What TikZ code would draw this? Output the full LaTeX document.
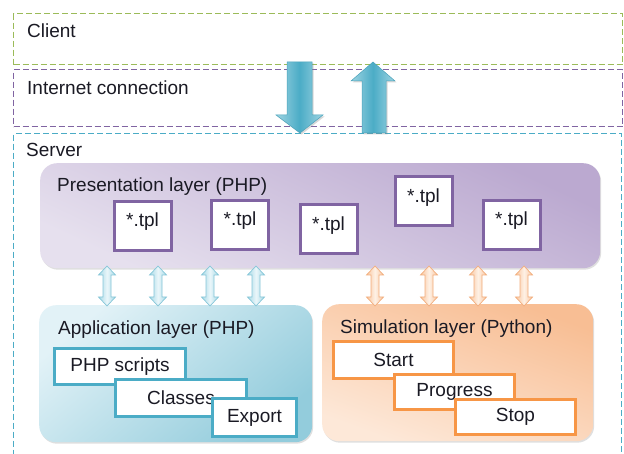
\documentclass[tikz,border=0pt]{standalone}
\usepackage{fontspec}
\setmainfont{Liberation Sans}
\usetikzlibrary{shadows}
\definecolor{zgreen}{HTML}{9BBB59}
\definecolor{zpurple}{HTML}{8064A2}
\definecolor{zcyan}{HTML}{4BACC6}
\definecolor{zorange}{HTML}{F79646}
\definecolor{txt}{HTML}{1A1A24}
\definecolor{pTop}{HTML}{BBA9D0}
\definecolor{pBot}{HTML}{E6E0EE}
\definecolor{aLight}{HTML}{E2F2F7}
\definecolor{aDark}{HTML}{93CCDC}
\definecolor{sDark}{HTML}{F8BE94}
\definecolor{sLight}{HTML}{FDE8D8}
\definecolor{arrEdge}{HTML}{9ED4E2}
\definecolor{arrMid}{HTML}{4BACC6}
\definecolor{arrLine}{HTML}{4AA3BB}
\definecolor{cEdge}{HTML}{A6D9E6}
\definecolor{cMid}{HTML}{EAF6FA}
\definecolor{cLine}{HTML}{86C6D8}
\definecolor{oEdge}{HTML}{F9C59C}
\definecolor{oMid}{HTML}{FEF1E6}
\definecolor{oLine}{HTML}{F2AE7E}
\tikzset{
  zone/.style={draw, dash pattern=on 6pt off 3pt, line width=1.3pt, anchor=north west, inner sep=0pt},
  zlabel/.style={anchor=base west, inner sep=0pt},
  layer/.style={rounded corners=17pt, anchor=north west, inner sep=0pt,
    drop shadow={shadow xshift=1pt, shadow yshift=-1.5pt, opacity=0.25}},
  tplbox/.style={draw=zpurple, line width=3pt, fill=white, minimum width=57pt, minimum height=49pt,
    inner sep=0pt, text height=14pt, text depth=0pt},
  abox/.style={draw=zcyan, line width=3pt, fill=white, inner sep=0pt, anchor=north west},
  sbox/.style={draw=zorange, line width=3pt, fill=white, inner sep=0pt, anchor=north west},
  bigarrow/.style={left color=arrEdge, right color=arrEdge, middle color=arrMid, draw=arrLine, line width=0.5pt,
    drop shadow={shadow xshift=1.5pt, shadow yshift=-1.5pt, opacity=0.3}},
  cyanlink/.style={left color=cEdge, right color=cEdge, middle color=cMid, draw=cLine, line width=0.7pt},
  orangelink/.style={left color=oEdge, right color=oEdge, middle color=oMid, draw=oLine, line width=0.7pt},
  dbl/.pic={\path[pic actions] (0,-20) -- (8.5,-11) -- (4,-11) -- (4,11) -- (8.5,11) -- (0,20)
      -- (-8.5,11) -- (-4,11) -- (-4,-11) -- (-8.5,-11) -- cycle;}
}
\begin{document}
\begin{tikzpicture}[x=1pt,y=-1pt,font=\fontsize{19}{22}\selectfont,text=txt]
\clip (0,0) rectangle (624,454);
\fill[white] (0,0) rectangle (624,454);
% zones
\node[zone, draw=zgreen, minimum width=609pt, minimum height=51pt] (client) at (13,13) {};
\node[zone, draw=zpurple, minimum width=609pt, minimum height=57pt] (inet) at (13,69) {};
\node[zone, draw=zcyan, minimum width=608pt, minimum height=340pt] (server) at (13,133) {};
\node[zlabel] (lclient) at (27,38) {Client};
\node[zlabel] (linet) at (27,95) {Internet connection};
\node[zlabel] (lserver) at (26,157) {Server};
% big arrows
\path[bigarrow] (287,62) -- (312,62) -- (312,115) -- (323,115) -- (300,133) -- (276,115) -- (287,115) -- cycle;
\path[bigarrow] (373,62) -- (395,81) -- (386,81) -- (386,133) -- (362,133) -- (362,81) -- (351,81) -- cycle;
% layers
\node[layer, top color=pTop, bottom color=pBot, shading angle=-25, minimum width=560pt, minimum height=105pt] (pres) at (40,163) {};
\node[layer, top color=aLight, bottom color=aDark, shading angle=40, minimum width=273pt, minimum height=137pt] (app) at (39,305) {};
\node[layer, top color=sDark, bottom color=sLight, shading angle=-20, minimum width=271pt, minimum height=137pt] (sim) at (322,304) {};
\node[zlabel] (lpres) at (57,192) {Presentation layer (PHP)};
\node[zlabel] (lapp) at (58,335) {Application layer (PHP)};
\node[zlabel] (lsim) at (340,334) {Simulation layer (Python)};
% templates
\node[tplbox] (t1) at (142.5,226) {\raisebox{6pt}{*.tpl}};
\node[tplbox] (t2) at (240,225) {\raisebox{6pt}{*.tpl}};
\node[tplbox] (t3) at (328.5,229.5) {\raisebox{6pt}{*.tpl}};
\node[tplbox] (t4) at (423.5,201.5) {\raisebox{6pt}{*.tpl}};
\node[tplbox] (t5) at (511.5,225) {\raisebox{6pt}{*.tpl}};
% application parts
\node[abox, minimum width=131pt, minimum height=36pt] (php) at (53,347) {PHP scripts};
\node[abox, minimum width=131pt, minimum height=37pt] (cls) at (114,378) {Classes};
\node[abox, minimum width=84pt, minimum height=38pt] (exp) at (211,397) {Export};
% simulation parts
\node[sbox, minimum width=120pt, minimum height=37pt] (start) at (332,340) {Start};
\node[sbox, minimum width=120pt, minimum height=35pt] (prog) at (393,373) {Progress};
\node[sbox, minimum width=120pt, minimum height=35pt] (stop) at (454,398) {Stop};
% links between layers
\foreach \x in {107,158,210,256} \pic[cyanlink] at (\x,286) {dbl};
\foreach \x in {375,429,478,524} \pic[orangelink] at (\x,286) {dbl};
\end{tikzpicture}
\end{document}
